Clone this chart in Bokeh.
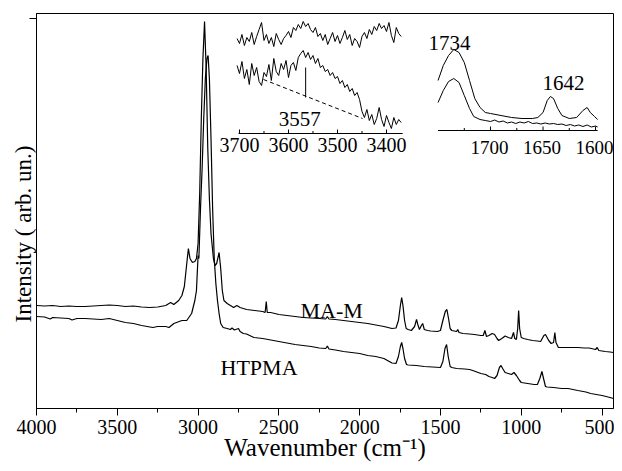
import numpy as np
from bokeh.plotting import figure
from bokeh.models import Range1d, FixedTicker
from bokeh.core.properties import value
from bokeh.embed import file_html
from bokeh.resources import INLINE

SERIF = "'Liberation Serif', 'Times New Roman', serif"

# ---------------- main spectra (wavenumber, intensity arb. un.) ----------------
mam_wn = [4000, 3950, 3900, 3850, 3800, 3750, 3700, 3650, 3600, 3550, 3500, 3450, 3400, 3350, 3300,
          3250, 3200, 3170, 3150, 3120, 3100, 3085, 3070, 3060, 3050, 3035, 3020, 3010, 3000, 2990,
          2980, 2970, 2960, 2950, 2940, 2930, 2920, 2905, 2895, 2885, 2870, 2860, 2850, 2840, 2820,
          2800, 2780, 2760, 2740, 2700, 2650, 2600, 2585, 2578, 2572, 2550, 2500, 2450, 2400, 2350,
          2300, 2250, 2210, 2200, 2190, 2150, 2100, 2050, 2000, 1950, 1900, 1850, 1800, 1775, 1760,
          1748, 1740, 1732, 1722, 1712, 1700, 1680, 1660, 1648, 1640, 1630, 1618, 1610, 1600, 1580,
          1560, 1520, 1500, 1485, 1470, 1460, 1450, 1440, 1430, 1400, 1393, 1385, 1360, 1320, 1290,
          1250, 1235, 1225, 1215, 1200, 1180, 1165, 1150, 1140, 1120, 1100, 1080, 1060, 1048, 1040,
          1030, 1022, 1016, 1010, 1000, 985, 960, 930, 900, 880, 860, 850, 830, 815, 800,
          792, 785, 770, 750, 700, 650, 610, 580, 540, 530, 520, 480, 450, 430]
mam_int = [103, 102.5, 103, 102, 102.5, 102, 102, 102.5, 103, 103.5, 103, 102, 102.5, 101.5, 101,
           101.5, 103, 106, 104, 108, 113, 122, 145, 160, 150, 146, 147, 150, 165, 215,
           290, 350, 387, 340, 260, 210, 175, 150, 143, 145, 156, 140, 118, 108, 105,
           103, 101, 103, 101, 99, 98, 97, 96, 107, 96, 96, 94, 93, 92, 91,
           90.5, 90, 89.5, 92, 89.5, 89, 88, 87, 86, 85, 83.5, 82, 80, 80.5, 88,
           103, 111, 103, 88, 80, 79, 78, 82, 89, 84, 79, 83, 85, 79, 78,
           77.5, 77, 78, 88, 97, 99, 90, 80, 78, 77, 79, 76, 75, 74.5, 74,
           73, 73, 78, 72, 73, 75, 74, 70, 68, 70, 72.5, 71, 70, 76, 70,
           69, 80, 98, 80, 71, 70, 69, 68, 67.5, 67, 73, 74, 68, 65, 66,
           76, 66, 61, 61, 61, 61, 60.5, 60.5, 59, 61, 58, 57, 56.5, 56]

htpma_wn = [4000, 3950, 3915, 3900, 3850, 3800, 3780, 3750, 3700, 3650, 3600, 3550, 3500, 3450, 3400,
            3350, 3280, 3250, 3200, 3180, 3150, 3100, 3070, 3040, 3020, 3010, 3000, 2995, 2985, 2975,
            2965, 2955, 2945, 2938, 2930, 2920, 2910, 2900, 2890, 2880, 2870, 2860, 2845, 2820, 2800,
            2790, 2775, 2750, 2740, 2720, 2700, 2655, 2600, 2550, 2500, 2450, 2400, 2350, 2300, 2250,
            2210, 2200, 2190, 2150, 2100, 2050, 2000, 1950, 1900, 1850, 1800, 1775, 1760, 1748, 1740,
            1732, 1722, 1710, 1700, 1650, 1600, 1550, 1500, 1485, 1472, 1462, 1452, 1440, 1430, 1400,
            1350, 1320, 1300, 1250, 1220, 1200, 1180, 1165, 1150, 1135, 1125, 1115, 1100, 1080, 1060,
            1045, 1030, 1010, 1000, 960, 920, 900, 885, 872, 862, 850, 840, 800, 750, 710,
            650, 600, 570, 500, 450, 430]
htpma_int = [92, 91.5, 89.5, 91, 90.5, 90, 88.5, 90, 90, 89.5, 89, 90, 88, 86, 85,
             83, 81, 82, 82, 81, 85, 88, 88, 95, 108, 118, 153, 150, 200, 240,
             290, 330, 350, 353, 330, 270, 200, 150, 125, 108, 95, 85, 81, 80, 79,
             80.5, 78.5, 80, 77, 75, 74.5, 71, 70, 68.5, 67, 65.5, 64, 63, 62, 60.5,
             60, 62.5, 59.5, 58.5, 57, 56, 55, 53, 52, 50, 45.5, 45, 52, 62, 66,
             60, 50, 44, 43.5, 43, 42, 41.5, 41, 47, 60, 64, 52, 42, 41, 40,
             39.5, 39, 38, 35, 34, 32, 31, 30, 33, 41, 43, 40, 36, 35, 34,
             36, 33, 28, 26, 25, 24, 24, 30, 37, 30, 22, 21.5, 21, 20, 20,
             18, 16.5, 15, 13, 11, 10]

# ---------------- inset 1 : 3700-3400 cm-1 ----------------
inset1_start = 3705
inset1_step = 5
inset1_upper = [95, 90, 99, 88, 96, 92, 101, 89, 97, 104, 111, 93, 99, 90, 96, 87, 100, 94, 89, 95,
                98, 102, 96, 106, 103, 109, 105, 112, 107, 110, 104, 101, 106, 97, 100, 93, 99, 89, 95, 101,
                92, 98, 90, 96, 103, 94, 99, 88, 95, 92, 86, 97, 101, 95, 104, 99, 107, 103, 110, 105,
                108, 102, 111, 98, 91, 106, 100, 97]
inset1_lower = [68, 60, 72, 55, 64, 49, 70, 58, 66, 52, 48, 61, 57, 69, 53, 75, 62, 58, 70, 64,
                73, 56, 68, 71, 63, 76, 80, 83, 76, 81, 74, 78, 70, 75, 66, 68, 62, 64, 58, 61,
                55, 57, 50, 53, 46, 49, 42, 45, 38, 41, 34, 22, 16, 24, 13, 19, 9, 15, 26, 14,
                7, 18, 11, 5, 16, 9, 14, 11]
inset1_wn = [inset1_start - inset1_step * i for i in range(len(inset1_upper))]
inset1_baseline_wn = [3651, 3449]
inset1_baseline_int = [54, 15]
inset1_mark_wn = [3565, 3565]
inset1_mark_int = [66, 36]
inset1_axis = [3702, 3367]
inset1_major = [3700, 3600, 3500, 3400]
inset1_minor = [3650, 3550, 3450]
inset1_peak_label = "3557"

# ---------------- inset 2 : 1750-1600 cm-1 ----------------
inset2_upper_wn = [1750, 1745, 1740, 1735, 1730, 1725, 1720, 1715, 1710, 1705, 1700, 1690, 1680, 1670,
                   1660, 1655, 1650, 1646, 1643, 1640, 1636, 1632, 1625, 1618, 1612, 1608, 1605, 1601, 1598]
inset2_upper_int = [50, 65, 75, 81, 78, 68, 50, 32, 23, 18, 17, 15, 13, 12,
                    12, 13, 18, 30, 34, 32, 22, 15, 12, 13, 20, 23, 18, 14, 11]
inset2_lower_wn = [1750, 1745, 1740, 1735, 1730, 1725, 1720, 1716, 1710, 1705, 1700, 1696, 1692, 1688,
                   1684, 1680, 1676, 1672, 1668, 1664, 1660, 1656, 1652, 1648, 1644, 1640, 1636, 1632,
                   1628, 1624, 1620, 1616, 1612, 1608, 1604, 1600, 1598]
inset2_lower_int = [28, 40, 49, 52, 48, 35, 22, 14, 11, 10, 9, 10.5, 8.5, 9.5,
                    7.5, 8.5, 7, 8.5, 7.5, 9, 7, 7.5, 6.5, 7.5, 6.5, 7, 6, 6.5,
                    5, 6, 4.5, 5.5, 4, 5.5, 3.5, 4.5, 3.5]
inset2_axis = [1750, 1598]
inset2_major = [1700, 1650, 1600]
inset2_minor = [1725, 1675, 1625]
inset2_peak_labels = ["1734", "1642"]

# ---------------- main axis ticks ----------------
x_major = [4000, 3500, 3000, 2500, 2000, 1500, 1000, 500]
x_minor = [3750, 3250, 2750, 2250, 1750, 1250, 750]
y_tick = [390]

p = figure(width=614, height=463, output_backend="svg", toolbar_location=None,
           x_range=Range1d(4000, 429), y_range=Range1d(0, 395),
           min_border_left=36, min_border_right=1, min_border_top=13, min_border_bottom=55)
p.grid.visible = False
p.outline_line_color = "black"
p.outline_line_width = 1
p.background_fill_color = "white"
p.border_fill_color = "white"

p.extra_x_ranges = {"in1": Range1d(4114.3, 2936.7), "in2": Range1d(2132.4, 1582.9)}
p.extra_y_ranges = {"in1y": Range1d(-275, 120), "in2y": Range1d(-278, 117)}

# main axes
xa = p.xaxis[0]
xa.ticker = FixedTicker(ticks=x_major, minor_ticks=x_minor)
xa.major_tick_out = 7
xa.major_tick_in = 0
xa.minor_tick_out = 4
xa.minor_tick_in = 0
xa.axis_line_color = "black"
xa.major_label_text_font = SERIF
xa.major_label_text_font_size = "20px"
xa.major_label_text_color = "black"
xa.major_label_standoff = 4
xa.axis_label = "Wavenumber (cm\u207b\u00b9)"
xa.axis_label_text_font = SERIF
xa.axis_label_text_font_size = "25px"
xa.axis_label_text_font_style = "normal"
xa.axis_label_text_color = "black"
xa.axis_label_standoff = -3

ya = p.yaxis[0]
ya.ticker = FixedTicker(ticks=y_tick, minor_ticks=[])
ya.major_tick_out = 7
ya.major_tick_in = 0
ya.major_label_overrides = {390: ""}
ya.major_label_text_font_size = "1px"
ya.major_label_standoff = 0
ya.axis_line_color = "black"
# trailing no-break spaces move the visible label below the frame centre, as in the reference
ya.axis_label = "Intensity ( arb. un.)" + "\u00a0" * 8
ya.axis_label_text_font = SERIF
ya.axis_label_text_font_size = "23px"
ya.axis_label_text_font_style = "normal"
ya.axis_label_text_color = "black"
ya.axis_label_standoff = -6

# main curves
p.line(mam_wn, mam_int, line_color="black", line_width=1.2)
p.line(htpma_wn, htpma_int, line_color="black", line_width=1.2)
p.text(x=[2366], y=[98], text=["MA-M"], text_font=value(SERIF), text_font_size="22px",
       text_align="left", text_baseline="alphabetic", text_color="black")
p.text(x=[2861], y=[41], text=["HTPMA"], text_font=value(SERIF), text_font_size="22px",
       text_align="left", text_baseline="alphabetic", text_color="black")

# inset 1
k1 = dict(x_range_name="in1", y_range_name="in1y")
p.line(inset1_wn, inset1_upper, line_color="black", line_width=1, **k1)
p.line(inset1_wn, inset1_lower, line_color="black", line_width=1, **k1)
p.line(inset1_baseline_wn, inset1_baseline_int, line_color="black", line_width=1, line_dash="4 3", **k1)
p.line(inset1_mark_wn, inset1_mark_int, line_color="black", line_width=1, **k1)
p.line(inset1_axis, [0, 0], line_color="black", line_width=1, **k1)
p.ray(x=inset1_major, y=[0] * len(inset1_major), length=4, angle=np.pi / 2, length_units="screen",
      line_color="black", line_width=1, **k1)
p.ray(x=inset1_minor, y=[0] * len(inset1_minor), length=2.5, angle=np.pi / 2, length_units="screen",
      line_color="black", line_width=1, **k1)
p.text(x=inset1_major, y=[-11] * len(inset1_major), text=[str(t) for t in inset1_major],
       text_font=value(SERIF), text_font_size="20px", text_align="center",
       text_baseline="alphabetic", text_color="black", **k1)
p.text(x=[3577], y=[15], text=[inset1_peak_label], text_font=value(SERIF), text_font_size="21px",
       text_align="center", text_baseline="alphabetic", text_color="black", **k1)

# inset 2
k2 = dict(x_range_name="in2", y_range_name="in2y")
p.line(inset2_upper_wn, inset2_upper_int, line_color="black", line_width=1, **k2)
p.line(inset2_lower_wn, inset2_lower_int, line_color="black", line_width=1, **k2)
p.line(inset2_axis, [0, 0], line_color="black", line_width=1, **k2)
p.ray(x=inset2_major, y=[0] * len(inset2_major), length=4, angle=np.pi / 2, length_units="screen",
      line_color="black", line_width=1, **k2)
p.ray(x=inset2_minor, y=[0] * len(inset2_minor), length=2.5, angle=np.pi / 2, length_units="screen",
      line_color="black", line_width=1, **k2)
p.text(x=inset2_major, y=[-17] * len(inset2_major), text=[str(t) for t in inset2_major],
       text_font=value(SERIF), text_font_size="19px", text_align="center", x_offset=-1,
       text_baseline="alphabetic", text_color="black", **k2)
p.text(x=[1739, 1630.5], y=[88, 48], text=inset2_peak_labels, text_font=value(SERIF),
       text_font_size="21px", text_align="center", text_baseline="alphabetic", text_color="black", **k2)

open("out.html", "w").write(file_html(p, INLINE))
